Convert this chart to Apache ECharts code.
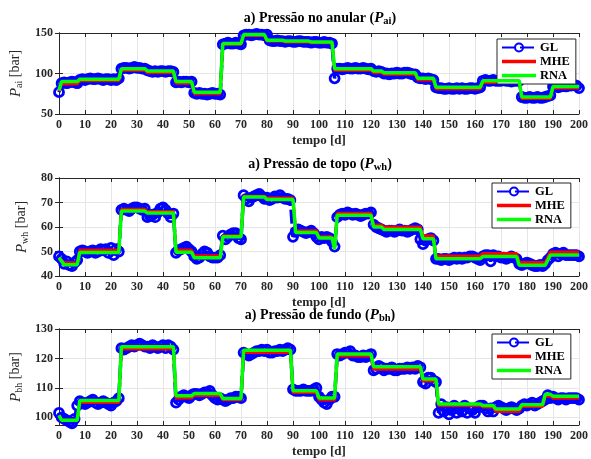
<!DOCTYPE html>
<html><head><meta charset="utf-8">
<script src="https://cdn.jsdelivr.net/npm/echarts@6/dist/echarts.min.js"></script>
<style>html,body{margin:0;padding:0;background:#fff}#c{width:591px;height:459px}</style>
</head><body><div id="c"></div>
<script>
// ---------- DATA ----------
// GL samples, one per day (day 0 .. 200)
const glAi = [77,
 88,89,88,89,90,89,88,
 92,93,92,93,94,93,93,94,93,92,93,93,92,93,92,
 94,
 106,107,107,106,107,108,107,107,106,106,
 104,103,102,103,102,103,103,102,103,103,102,
 89,90,89,90,90,89,90,
 76,75,76,75,75,74,75,76,75,75,74,
 136,137,138,137,137,138,137,136,
 147,148,148,147,148,149,148,148,147,148,
 141,140,140,141,140,140,139,140,140,139,139,140,140,139,139,139,138,139,139,138,138,139,138,138,137,
 94,
 106,106,105,106,107,106,106,107,106,106,107,106,105,106,
 103,102,103,102,
 100,100,99,100,100,101,100,100,101,101,100,99,99,
 95,94,94,93,94,93,92,
 83,82,82,81,81,82,81,81,82,81,82,81,81,82,82,81,82,83,
 91,92,91,91,92,91,91,91,92,91,91,90,91,91,91,
 71,70,70,71,70,70,71,70,70,71,72,73,
 84,84,83,84,85,84,85,85,86,85,82];

const glWh = [48,47,45,46,44.5,44,45.5,46.5,
 50,50.5,50,49.5,50,50.5,49.5,50,51,50.5,51,49.5,51.5,48.5,51,
 50,
 67,67.5,67,66.5,67.5,68,68,67.5,67,67.5,
 64,64.5,65,64,66,67.5,68,67,65.5,64,65.5,
 49.5,50.5,51,51.5,52,51,50,
 48,47,47.5,49,50,49.5,48,47.5,47.5,47.5,48.5,
 56.5,55,56,57,57.5,57.5,55.5,55,
 73,71.5,70.5,72,72.5,73,73.5,72.5,71.5,72,
 71,71.5,72.5,72,73,72,71.5,71.5,71,
 56,
 58,59,58.5,58,57.5,58,58.5,57.5,56,
 55,56,55.5,56,55.5,54,52,
 64,65,65.5,65,66,65.5,65,65.5,65,64.5,65,65.5,65.5,66,
 61,60,59.5,59,58.5,58,58.5,58.5,58,58.5,59,58.5,58.5,58,58.5,59,59.5,59,
 55,53,54.5,55,55.5,54.5,
 47,47,46.5,47,47,46.5,47,47.5,47,47.5,47,47.5,47.5,48,48,47.5,47,46.5,
 48,48.5,48.5,46,48.5,48,48,47.5,47.5,47,47.5,48,47.5,47,
 45,44.5,45,45.5,45,44.5,44,44,44.5,44,45,
 46.5,47.5,49,49.5,48,49,49.5,48.5,48.5,48.5,48.5,48.5,48];

const glBh = [101.5,100,99.5,99,98.5,98,99.5,104,
 105.5,105,104.5,105,105.5,106,105,104.5,105,105.5,105,104.5,104,105,105.5,
 106.5,
 123.5,123,123.5,124,124.5,124,124.5,125,124.5,124,124,123.5,124.5,124,123.5,124,124.5,123.5,124.5,124,123,
 105,106,107,107.5,107,106.5,107.5,
 108,108,107.5,108,108.5,108.5,109,107.5,106.5,106,106.5,
 106,105.5,106,106.5,106.5,107,107,106.5,
 122,121.5,121,121.5,122,122.5,122.5,123,122.5,123,122,122,122.5,122.5,123,122.5,123,123.5,123,
 109.5,109,109,109,109.5,109,109,109,109.5,110,
 107,106,105,104.5,106,107,107,
 121.5,121,121.5,122,122,122.5,121,121,120.5,120.5,121,120.5,121,121.5,
 116,116.5,117.5,117,116,116.5,116.5,117,116,116,116.5,116.5,116.5,117,116.5,117,116.5,117.5,117,
 112,111.5,113.5,113.5,112.5,112,
 101.5,104.5,102,103.5,101,102.5,104,101.5,103,102,104,101.5,103,102.5,101.5,103.5,104,
 104,103,102,103,102,103.5,104,103.5,103,102.5,103,103.5,103,102.5,103,
 104,104.5,104,104.5,105,104,104.5,105,105.5,106,
 107.5,106.5,107,106.5,106,106.5,106.5,106,106.5,106.5,106.5,106.5,106];

// MHE / RNA estimates: [day, value] breakpoints of the step profiles
const mheAi = [[0,78],[1,87],[7,87],[8,91],[23,91],[24,104],[33,104],[34,101],[44,101],[45,88],[51,88],[52,75],[62,75],[63,136],[70,136],[71,147],[79,147],[80,140],[86,140],[87,139],[96,139],[97,138],[105,138],[106,104],[120,104],[121,101],[124,101],[125,99],[137,99],[138,92],[144,92],[145,81],[162,81],[163,89],[177,89],[178,69],[189,69],[190,82],[200,82]];
const rnaAi = [[0,79],[1,90],[7,90],[8,93],[23,93],[24,106],[33,106],[34,103],[44,103],[45,90],[51,90],[52,77],[62,77],[63,137],[70,137],[71,148],[79,148],[80,141],[86,141],[87,140],[96,140],[97,139],[105,139],[106,106],[120,106],[121,103],[124,103],[125,101],[137,101],[138,94],[144,94],[145,83],[162,83],[163,91],[177,91],[178,71],[189,71],[190,84],[200,84]];

const mheWh = [[0,47.5],[2,45.4],[7,45.4],[8,50.6],[23,50.6],[24,67.2],[33,67.2],[34,66.3],[44,66.3],[45,50.6],[51,50.6],[52,48.3],[62,48.3],[63,56.4],[70,56.4],[71,72.6],[79,72.6],[80,71.8],[90,71.8],[91,58.5],[99,58.5],[100,56],[105,56],[106,52],[107,65.6],[120,65.6],[121,60.8],[124,60.8],[125,60],[139,60],[140,56.4],[144,56.4],[145,48.2],[162,48.2],[163,49.2],[176,49.2],[177,45.5],[187,45.5],[189,49.8],[200,49.8]];
const rnaWh = [[0,47.5],[2,44.6],[7,44.6],[8,49.6],[23,49.6],[24,66.5],[33,66.5],[34,65.7],[44,65.7],[45,49.7],[51,49.7],[52,47.4],[62,47.4],[63,56],[70,56],[71,72.2],[79,72.2],[80,71.2],[90,71.2],[91,57.8],[99,57.8],[100,55.5],[105,55.5],[106,51],[107,64.8],[120,64.8],[121,60],[124,60],[125,59],[139,59],[140,55.2],[144,55.2],[145,47],[162,47],[163,48],[176,48],[177,44.4],[187,44.4],[189,48.6],[200,48.6]];

const mheBh = [[0,100.5],[1,99],[7,99],[8,105],[23,105],[24,123.2],[44,123.2],[45,106.6],[51,106.6],[52,107.4],[62,107.4],[63,106],[70,106],[71,122],[89,122],[90,108.4],[99,108.4],[100,105.9],[106,105.9],[107,120.8],[120,120.8],[121,116.3],[139,116.3],[140,112.3],[145,112.3],[146,104],[162,104],[163,103.5],[167,103.5],[168,102],[177,102],[178,103.7],[186,103.7],[187,107.2],[189,107.2],[190,106.5],[200,106.5]];
const rnaBh = [[0,100.7],[1,99],[7,99],[8,105.7],[23,105.7],[24,124],[44,124],[45,107.3],[51,107.3],[52,108.1],[62,108.1],[63,106.4],[70,106.4],[71,122.8],[89,122.8],[90,109],[99,109],[100,106.6],[106,106.6],[107,121.5],[120,121.5],[121,117.2],[139,117.2],[140,113],[145,113],[146,104.5],[162,104.5],[163,104],[167,104],[168,102.8],[177,102.8],[178,104.3],[186,104.3],[187,107.8],[189,107.8],[190,107.2],[200,107.2]];

const yRanges = [[50,150,50],[40,80,10],[97.4,130,null]];
const legendNames = ['GL','MHE','RNA'];

// ---------- LAYOUT / STYLE ----------
const FONT = '"Liberation Serif","Times New Roman",serif';
const AXC = '#262626';
const grids = [
  {left:59, right:11, top:33, height:81},
  {left:59, right:11, top:178, height:98},
  {left:59, right:11, top:329, height:98}
];
const titles = [
  {y:19, txt:'a) Pressão no anular (', sub:'ai'},
  {y:165, txt:'a) Pressão de topo (', sub:'wh'},
  {y:316, txt:'a) Pressão de fundo (', sub:'bh'}
];
const yNameGap = [28, 22, 28];
const legendPos = [{left:497, top:39},{left:492, top:183},{left:492, top:334}];

const xAxes = [], yAxes = [], series = [], legends = [], graphics = [];
const glSets = [glAi, glWh, glBh], mheSets = [mheAi, mheWh, mheBh], rnaSets = [rnaAi, rnaWh, rnaBh];

function yCfg(i, right) {
  const r = yRanges[i];
  const c = {
    type:'value', gridIndex:i, min:r[0], max:r[1], position: right ? 'right' : 'left',
    axisLine:{show:true, lineStyle:{color:AXC, width:1}},
    axisTick:{show:true, inside:true, length:4, lineStyle:{color:AXC}},
    axisLabel:{show:!right, color:AXC, fontFamily:FONT, fontWeight:'bold', fontSize:12, margin:6,
      formatter: v => (Math.abs(v % 10) < 1e-6 ? String(v) : '')},
    splitLine:{show:!right, lineStyle:{color:'#e6e6e6', width:1}}
  };
  if (r[2]) c.interval = r[2]; else c.splitNumber = 3;
  return c;
}

for (let i = 0; i < 3; i++) {
  xAxes.push({type:'value', gridIndex:i, min:0, max:200, interval:10, position:'bottom',
    axisLine:{show:true, onZero:false, lineStyle:{color:AXC, width:1}},
    axisTick:{show:true, inside:true, length:4, lineStyle:{color:AXC}},
    axisLabel:{color:AXC, fontFamily:FONT, fontWeight:'bold', fontSize:12, margin:5},
    splitLine:{show:true, lineStyle:{color:'#e6e6e6', width:1}},
    name:'tempo [d]', nameLocation:'middle', nameGap:20,
    nameTextStyle:{color:AXC, fontFamily:FONT, fontWeight:'bold', fontSize:13}});
  yAxes.push(Object.assign(yCfg(i,false), {
    name:'{p|P}{s|' + titles[i].sub + '}{b| [bar]}', nameLocation:'middle', nameGap:yNameGap[i], nameRotate:90,
    nameTextStyle:{color:AXC, rich:{
      p:{fontFamily:FONT, fontStyle:'italic', fontSize:15, color:AXC, lineHeight:16, verticalAlign:'top'},
      s:{fontFamily:FONT, fontSize:10, color:AXC, lineHeight:16, verticalAlign:'bottom', padding:[6,0,0,0]},
      b:{fontFamily:FONT, fontSize:14, color:AXC, lineHeight:16, verticalAlign:'top'}
    }}
  }));
}
for (let i = 0; i < 3; i++) {
  xAxes.push({type:'value', gridIndex:i, min:0, max:200, interval:10, position:'top',
    axisLine:{show:true, onZero:false, lineStyle:{color:AXC, width:1}},
    axisTick:{show:true, inside:true, length:4, lineStyle:{color:AXC}},
    axisLabel:{show:false}, splitLine:{show:false}});
  yAxes.push(yCfg(i,true));
}

const barIcon = 'path://M0,0 L32,0 L32,3.5 L0,3.5 Z';
for (let i = 0; i < 3; i++) {
  series.push({name:'GL', type:'line', xAxisIndex:i, yAxisIndex:i, z:2,
    data: glSets[i].map((v, d) => [d, v]),
    symbol:'circle', symbolSize:9, showAllSymbol:true,
    itemStyle:{color:'rgba(255,255,255,0)', borderColor:'#0000ff', borderWidth:2.8},
    lineStyle:{color:'#0000ff', width:3.5, type:[14,4]},
    emphasis:{disabled:true}, clip:true});
  series.push({name:'MHE', type:'line', xAxisIndex:i, yAxisIndex:i, z:3,
    data: mheSets[i], symbol:'none', lineStyle:{color:'#ff0000', width:3}, itemStyle:{color:'#ff0000'},
    emphasis:{disabled:true}});
  series.push({name:'RNA', type:'line', xAxisIndex:i, yAxisIndex:i, z:4,
    data: rnaSets[i], symbol:'none', lineStyle:{color:'#00ff00', width:3.5}, itemStyle:{color:'#00ff00'},
    emphasis:{disabled:true}});
  legends.push({data:[{name:'GL'}, {name:'MHE', icon:barIcon}, {name:'RNA', icon:barIcon}],
    orient:'vertical', left:legendPos[i].left, top:legendPos[i].top,
    itemWidth:34, itemHeight:10, itemGap:1, padding:[2,6,2,4],
    backgroundColor:'#fff', borderColor:AXC, borderWidth:1, selectedMode:false,
    textStyle:{fontFamily:FONT, fontWeight:'bold', fontSize:12.5, color:'#000', padding:[0,0,0,-1]}});
  graphics.push({type:'text', x:320, y:titles[i].y, z:10,
    style:{text:'{t|' + titles[i].txt + '}{p|P}{s|' + titles[i].sub + '}{t|)}', align:'center', verticalAlign:'middle',
      rich:{
        t:{fontFamily:FONT, fontWeight:'bold', fontSize:14, fill:'#000', lineHeight:16, verticalAlign:'top'},
        p:{fontFamily:FONT, fontWeight:'bold', fontStyle:'italic', fontSize:15, fill:'#000', lineHeight:16, verticalAlign:'top'},
        s:{fontFamily:FONT, fontWeight:'bold', fontSize:10.5, fill:'#000', lineHeight:16, verticalAlign:'bottom', padding:[7,0,0,0]}
      }}});
}

const chart = echarts.init(document.getElementById('c'), null, {renderer:'canvas'});
chart.setOption({
  animation:false, backgroundColor:'#fff',
  grid:grids, xAxis:xAxes, yAxis:yAxes, series:series, legend:legends, graphic:graphics
});
</script>
</body></html>
